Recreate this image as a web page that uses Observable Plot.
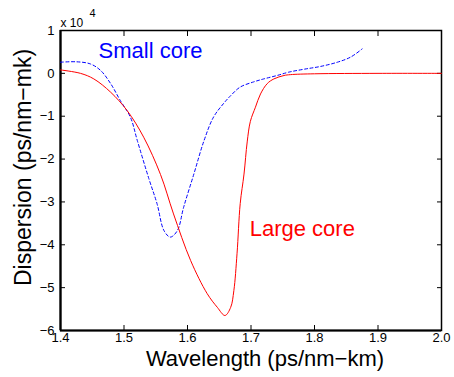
<!DOCTYPE html>
<html><head><meta charset="utf-8">
<script src="https://cdn.jsdelivr.net/npm/d3@7"></script>
<script src="https://cdn.jsdelivr.net/npm/@observablehq/plot@0.6"></script>
<style>body{margin:0;background:#fff}#chart{width:454px;height:377px}</style>
</head><body><div id="chart"></div>
<script>
const largeWl = [1.40,1.4315,1.4525,1.479,1.505,1.531,1.5575,1.578,1.605,1.631,1.647,1.659,1.668,1.673,1.678,1.683,1.689,1.694,1.699,1.707,1.715,1.7255,1.736,1.752,1.762,1.80,1.90,2.00];
const largeD  = [0.08,0.0,-0.13,-0.44,-0.87,-1.49,-2.36,-3.28,-4.37,-5.14,-5.46,-5.65,-5.46,-5.07,-4.21,-3.04,-2.35,-1.6,-1.12,-0.79,-0.48,-0.24,-0.13,-0.05,-0.03,-0.01,0.0,0.0];
const smallWl = [1.40,1.425,1.447,1.463,1.479,1.494,1.51,1.521,1.539,1.552,1.563,1.573,1.584,1.594,1.61,1.626,1.641,1.657,1.668,1.683,1.704,1.72,1.741,1.76,1.785,1.809,1.836,1.857,1.875];
const smallD  = [0.26,0.27,0.22,0.07,-0.24,-0.63,-1.02,-1.57,-2.45,-3.04,-3.67,-3.82,-3.67,-3.12,-2.35,-1.57,-1.02,-0.7,-0.52,-0.32,-0.2,-0.13,-0.05,0.03,0.1,0.16,0.26,0.38,0.57];
const xTicks = [1.4,1.5,1.6,1.7,1.8,1.9,2.0];
const yTicks = [1,0,-1,-2,-3,-4,-5,-6];
const seriesNames = ["Small core","Large core"];

const large = largeWl.map((w,i)=>({w, d: largeD[i]}));
const small = smallWl.map((w,i)=>({w, d: smallD[i]}));
const fmtY = d => d < 0 ? "\u2212" + Math.abs(d) : String(d);
const font = "Liberation Sans, Arial, Helvetica, sans-serif";

const chart = Plot.plot({
  width: 454, height: 377,
  marginLeft: 60, marginRight: 13, marginTop: 30, marginBottom: 47,
  style: {fontFamily: font, fontSize: "13px", color: "#000", background: "#fff"},
  x: {domain: [1.4, 2.0], label: null},
  y: {domain: [-6, 1], label: null},
  marks: [
    Plot.axisX(xTicks, {anchor: "bottom", tickSize: 0, tickPadding: 2, tickFormat: d => d.toFixed(1), fontSize: 13, label: null}),
    Plot.axisX(xTicks, {anchor: "bottom", tickSize: -5, tickFormat: () => "", label: null}),
    Plot.axisX(xTicks, {anchor: "top", tickSize: -5, tickFormat: () => "", label: null}),
    Plot.axisY(yTicks, {anchor: "left", tickSize: 0, tickPadding: 6, tickFormat: fmtY, fontSize: 13, label: null}),
    Plot.axisY(yTicks, {anchor: "left", tickSize: -5, tickFormat: () => "", label: null}),
    Plot.axisY(yTicks, {anchor: "right", tickSize: -5, tickFormat: () => "", label: null}),
    Plot.frame({stroke: "#000", strokeWidth: 1.5}),
    Plot.ruleX([1.4], {stroke: "#000", strokeWidth: 2.2}),
    Plot.ruleY([-6], {stroke: "#000", strokeWidth: 2.2}),
    Plot.line(small, {x: "w", y: "d", stroke: "#0000ff", strokeWidth: 1, strokeDasharray: "3,2.5", curve: "catmull-rom"}),
    Plot.line(large, {x: "w", y: "d", stroke: "#ff0000", strokeWidth: 1, curve: "catmull-rom"}),
    Plot.text([seriesNames[0]], {x: 1.46, y: 0.53, text: d => d, fill: "#0000ff", fontSize: 22, textAnchor: "start"}),
    Plot.text([seriesNames[1]], {x: 1.698, y: -3.62, text: d => d, fill: "#ff0000", fontSize: 22, textAnchor: "start"}),
    Plot.text(["x 10"], {frameAnchor: "top-left", dx: 0, dy: -12, text: d => d, fontSize: 12, textAnchor: "start"}),
    Plot.text(["4"], {frameAnchor: "top-left", dx: 29, dy: -21, text: d => d, fontSize: 11, textAnchor: "start"}),
    Plot.text(["Wavelength (ps/nm\u2212km)"], {frameAnchor: "bottom", dx: 14, dy: 35, text: d => d, fontSize: 22, textAnchor: "middle"}),
    Plot.text(["Dispersion (ps/nm\u2212mk)"], {frameAnchor: "left", dx: -37, dy: -13, rotate: -90, text: d => d, fontSize: 23, textAnchor: "middle"})
  ]
});
document.getElementById("chart").append(chart);
</script></body></html>
